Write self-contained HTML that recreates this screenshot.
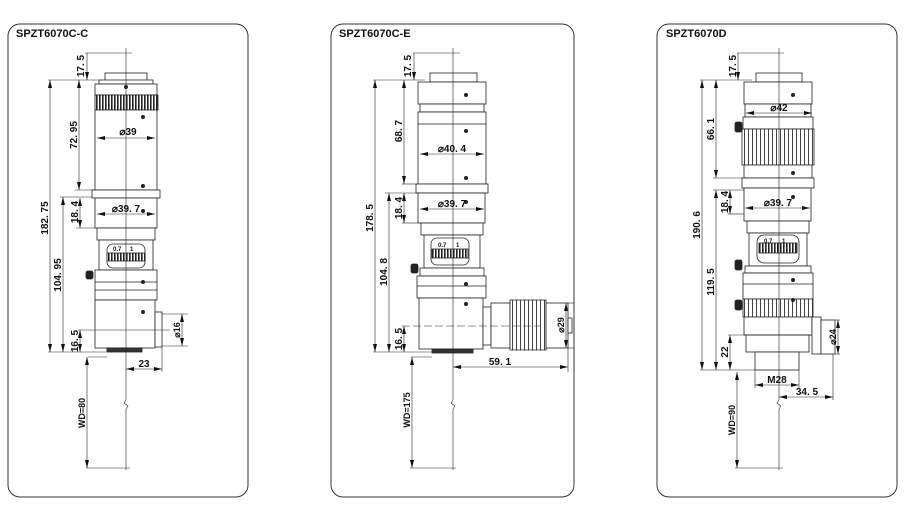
<!DOCTYPE html>
<html><head><meta charset="utf-8"><style>
html,body{margin:0;padding:0;background:#fff;}
svg{display:block;}
text{font-family:"Liberation Sans",sans-serif;font-weight:bold;fill:#111;}
</style></head><body>
<svg width="907" height="524" viewBox="0 0 907 524" xmlns="http://www.w3.org/2000/svg">
<defs>
<marker id="a" viewBox="0 0 8 4" refX="8" refY="2" markerWidth="8" markerHeight="4" orient="auto-start-reverse" markerUnits="userSpaceOnUse"><path d="M0,0L8,2L0,4z" fill="#111"/></marker>
<pattern id="kn" width="3" height="10" patternUnits="userSpaceOnUse"><rect width="3" height="10" fill="#fff"/><rect width="1.6" height="10" fill="#222"/></pattern>
<pattern id="kl" width="4" height="10" patternUnits="userSpaceOnUse"><rect width="4" height="10" fill="#fff"/><rect width="1" height="10" fill="#444"/></pattern>
</defs>
<g fill="none" stroke="#333" stroke-width="1">
<rect x="8" y="24" width="240" height="473" rx="12"/>
<rect x="331" y="24" width="243" height="473" rx="12"/>
<rect x="657" y="24" width="240" height="473" rx="12"/>
</g>
<text x="16" y="37" font-size="11">SPZT6070C-C</text>
<text x="339" y="37" font-size="11">SPZT6070C-E</text>
<text x="666" y="37" font-size="11">SPZT6070D</text>

<!-- ============ PANEL 1 ============ -->
<g stroke="#222" stroke-width="0.8" fill="#fff">
<rect x="105" y="73" width="42" height="9"/>
<rect x="99" y="80" width="54" height="4"/>
<rect x="95" y="84" width="62" height="11"/>
<rect x="95" y="95" width="63" height="15" fill="url(#kn)"/>
<rect x="95" y="110" width="62" height="80"/>
<rect x="92" y="190" width="68" height="8"/>
<rect x="95" y="198" width="62" height="30"/>
<rect x="97" y="228" width="58" height="12"/>
<rect x="99" y="240" width="54" height="30"/>
<rect x="107" y="244" width="38" height="24" rx="6"/>
<rect x="107" y="253" width="38" height="8" fill="url(#kn)"/>
<rect x="95" y="270" width="62" height="30"/>
<line x1="95" y1="282" x2="157" y2="282"/><line x1="95" y1="290" x2="157" y2="290"/>
<rect x="86" y="271" width="7" height="8" rx="2" fill="#222"/>
<rect x="95" y="300" width="60" height="48"/>
<rect x="155" y="312" width="7" height="35"/>
<rect x="107" y="348" width="35" height="4" fill="#333"/>
</g>
<g fill="#222"><circle cx="126" cy="87" r="2"/><circle cx="143" cy="117" r="2"/><circle cx="143" cy="186" r="2"/><circle cx="143" cy="211" r="2"/><circle cx="143" cy="282" r="2"/><circle cx="143" cy="312" r="2"/></g>
<text x="113" y="251" font-size="6">0.7</text><text x="130" y="251" font-size="6">1</text>
<g stroke="#222" stroke-width="0.6" fill="none">
<line x1="126" y1="48" x2="126" y2="400"/><path d="M126,400 l-2,3 l4,3 l-2,3"/><line x1="126" y1="409" x2="126" y2="470"/>
<line x1="85" y1="53" x2="132" y2="53"/>
<line x1="48" y1="80" x2="100" y2="80"/>
<line x1="60" y1="197" x2="92" y2="197"/><line x1="75" y1="190" x2="95" y2="190"/>
<line x1="76" y1="228" x2="95" y2="228"/>
<line x1="48" y1="352" x2="107" y2="352"/>
<line x1="78" y1="330" x2="170" y2="330"/>
<line x1="88" y1="357" x2="107" y2="357"/>
<line x1="162" y1="314" x2="188" y2="314"/><line x1="162" y1="346" x2="188" y2="346"/>
<line x1="162" y1="347" x2="162" y2="372"/>
<line x1="86" y1="468" x2="130" y2="468"/>
<line x1="50" y1="80" x2="50" y2="352" marker-start="url(#a)" marker-end="url(#a)"/>
<line x1="63" y1="197" x2="63" y2="352" marker-start="url(#a)" marker-end="url(#a)"/>
<line x1="79" y1="80" x2="79" y2="190" marker-start="url(#a)" marker-end="url(#a)"/>
<line x1="87" y1="53" x2="87" y2="80" marker-end="url(#a)"/>
<line x1="80" y1="198" x2="80" y2="228" marker-start="url(#a)" marker-end="url(#a)"/>
<line x1="80" y1="330" x2="80" y2="352" marker-start="url(#a)" marker-end="url(#a)"/>
<line x1="87" y1="357" x2="87" y2="468" marker-start="url(#a)" marker-end="url(#a)"/>
<line x1="182" y1="314" x2="182" y2="346" marker-start="url(#a)" marker-end="url(#a)"/>
<line x1="126" y1="369" x2="162" y2="369" marker-start="url(#a)" marker-end="url(#a)"/>
<line x1="97" y1="138" x2="155" y2="138" marker-start="url(#a)" marker-end="url(#a)"/>
<line x1="97" y1="214" x2="155" y2="214" marker-start="url(#a)" marker-end="url(#a)"/>
</g>
<g font-size="10">
<text transform="translate(48,218) rotate(-90)" text-anchor="middle">182. 75</text>
<text transform="translate(61,275) rotate(-90)" text-anchor="middle">104. 95</text>
<text transform="translate(77,135) rotate(-90)" text-anchor="middle">72. 95</text>
<text transform="translate(84,66) rotate(-90)" text-anchor="middle">17. 5</text>
<text transform="translate(78,212) rotate(-90)" text-anchor="middle">18. 4</text>
<text transform="translate(78,341) rotate(-90)" text-anchor="middle">16. 5</text>
<text transform="translate(85,413) rotate(-90)" text-anchor="middle" font-size="9">WD=80</text>
<text transform="translate(180,330) rotate(-90)" text-anchor="middle" font-size="9">⌀16</text>
<text x="128" y="135" text-anchor="middle">⌀39</text>
<text x="126" y="212" text-anchor="middle">⌀39. 7</text>
<text x="144" y="367" text-anchor="middle">23</text>
</g>

<!-- ============ PANEL 2 ============ -->
<g stroke="#222" stroke-width="0.8" fill="#fff">
<rect x="430" y="73" width="47" height="9"/>
<rect x="418" y="82" width="68" height="22"/>
<rect x="420" y="104" width="64" height="8"/>
<rect x="418" y="112" width="68" height="72"/>
<line x1="418" y1="124" x2="486" y2="124"/>
<rect x="416" y="184" width="72" height="9"/>
<rect x="418" y="193" width="67" height="30"/>
<rect x="421" y="223" width="62" height="12"/>
<rect x="424" y="235" width="56" height="33"/>
<rect x="431" y="238" width="38" height="27" rx="6"/>
<rect x="432" y="249" width="36" height="9" fill="url(#kn)"/>
<rect x="420" y="268" width="64" height="8"/>
<rect x="417" y="276" width="69" height="22"/>
<line x1="417" y1="286" x2="486" y2="286"/>
<rect x="411" y="264" width="7" height="9" rx="2" fill="#222"/>
<rect x="419" y="298" width="64" height="51"/>
<rect x="432" y="349" width="41" height="4" fill="#333"/>
<rect x="483" y="307" width="8" height="38"/>
<rect x="491" y="303" width="19" height="45"/>
<rect x="510" y="300" width="36" height="50" fill="url(#kl)"/>
<rect x="546" y="303" width="22" height="45"/>
<rect x="568" y="318" width="4" height="15"/>
</g>
<g fill="#222"><circle cx="466" cy="95" r="2"/><circle cx="466" cy="131" r="2"/><circle cx="466" cy="178" r="2"/><circle cx="466" cy="202" r="2"/><circle cx="466" cy="284" r="2"/><circle cx="466" cy="304" r="2"/></g>
<text x="438" y="247" font-size="6">0.7</text><text x="456" y="247" font-size="6">1</text>
<g stroke="#222" stroke-width="0.6" fill="none">
<line x1="453" y1="48" x2="453" y2="400"/><path d="M453,400 l-2,3 l4,3 l-2,3"/><line x1="453" y1="409" x2="453" y2="470"/>
<line x1="413" y1="53" x2="460" y2="53"/>
<line x1="373" y1="80" x2="425" y2="80"/>
<line x1="385" y1="193" x2="418" y2="193"/><line x1="402" y1="184" x2="418" y2="184"/>
<line x1="402" y1="223" x2="418" y2="223"/>
<line x1="373" y1="352" x2="432" y2="352"/>
<line x1="402" y1="326" x2="540" y2="326" stroke-dasharray="8,3"/>
<line x1="411" y1="357" x2="432" y2="357"/>
<line x1="568" y1="303" x2="574" y2="303"/><line x1="568" y1="348" x2="574" y2="348"/>
<line x1="568" y1="348" x2="568" y2="372"/>
<line x1="410" y1="468" x2="456" y2="468"/>
<line x1="375" y1="80" x2="375" y2="352" marker-start="url(#a)" marker-end="url(#a)"/>
<line x1="389" y1="193" x2="389" y2="352" marker-start="url(#a)" marker-end="url(#a)"/>
<line x1="404" y1="80" x2="404" y2="184" marker-start="url(#a)" marker-end="url(#a)"/>
<line x1="414" y1="53" x2="414" y2="80" marker-end="url(#a)"/>
<line x1="404" y1="193" x2="404" y2="223" marker-start="url(#a)" marker-end="url(#a)"/>
<line x1="404" y1="326" x2="404" y2="352" marker-start="url(#a)" marker-end="url(#a)"/>
<line x1="412" y1="357" x2="412" y2="468" marker-start="url(#a)" marker-end="url(#a)"/>
<line x1="566" y1="303" x2="566" y2="348" marker-start="url(#a)" marker-end="url(#a)"/>
<line x1="453" y1="367" x2="568" y2="367" marker-start="url(#a)" marker-end="url(#a)"/>
<line x1="420" y1="154" x2="484" y2="154" marker-start="url(#a)" marker-end="url(#a)"/>
<line x1="420" y1="209" x2="484" y2="209" marker-start="url(#a)" marker-end="url(#a)"/>
</g>
<g font-size="10">
<text transform="translate(373,218) rotate(-90)" text-anchor="middle">178. 5</text>
<text transform="translate(387,272) rotate(-90)" text-anchor="middle">104. 8</text>
<text transform="translate(402,131) rotate(-90)" text-anchor="middle">68. 7</text>
<text transform="translate(411,66) rotate(-90)" text-anchor="middle">17. 5</text>
<text transform="translate(402,208) rotate(-90)" text-anchor="middle">18. 4</text>
<text transform="translate(402,339) rotate(-90)" text-anchor="middle">16. 5</text>
<text transform="translate(410,410) rotate(-90)" text-anchor="middle" font-size="9">WD=175</text>
<text transform="translate(564,325) rotate(-90)" text-anchor="middle" font-size="9">⌀29</text>
<text x="452" y="152" text-anchor="middle">⌀40. 4</text>
<text x="452" y="207" text-anchor="middle">⌀39. 7</text>
<text x="500" y="365" text-anchor="middle">59. 1</text>
</g>

<!-- ============ PANEL 3 ============ -->
<g stroke="#222" stroke-width="0.8" fill="#fff">
<rect x="756" y="73" width="46" height="9"/>
<rect x="744" y="82" width="68" height="22"/>
<rect x="745" y="104" width="66" height="13"/>
<rect x="743" y="117" width="70" height="12"/>
<rect x="742" y="129" width="72" height="36" fill="url(#kl)"/>
<rect x="744" y="165" width="68" height="13"/>
<rect x="742" y="178" width="72" height="10"/>
<rect x="744" y="188" width="67" height="33"/>
<rect x="747" y="221" width="62" height="12"/>
<rect x="749" y="233" width="58" height="33"/>
<rect x="757" y="235" width="42" height="28" rx="7"/>
<rect x="759" y="243" width="38" height="10" fill="url(#kn)"/>
<rect x="745" y="266" width="66" height="7"/>
<rect x="743" y="273" width="70" height="26"/>
<line x1="743" y1="284" x2="813" y2="284"/>
<rect x="743" y="299" width="70" height="18" fill="url(#kl)"/>
<rect x="744" y="317" width="68" height="18"/>
<rect x="746" y="335" width="63" height="17"/>
<rect x="755" y="352" width="44" height="18"/>
<rect x="812" y="317" width="9" height="37"/>
<rect x="821" y="320" width="14" height="34"/>
<rect x="735" y="260" width="7" height="10" rx="2" fill="#222"/>
<rect x="735" y="122" width="7" height="10" rx="2" fill="#222"/>
<rect x="735" y="300" width="7" height="10" rx="2" fill="#222"/>
</g>
<g fill="#222"><circle cx="793" cy="95" r="2"/><circle cx="793" cy="173" r="2"/><circle cx="793" cy="197" r="2"/><circle cx="793" cy="280" r="2"/><circle cx="793" cy="300" r="2"/></g>
<text x="764" y="243" font-size="6">0.7</text><text x="782" y="243" font-size="6">1</text>
<g stroke="#222" stroke-width="0.6" fill="none">
<line x1="779" y1="48" x2="779" y2="400"/><path d="M779,400 l-2,3 l4,3 l-2,3"/><line x1="779" y1="409" x2="779" y2="470"/>
<line x1="737" y1="53" x2="784" y2="53"/>
<line x1="700" y1="80" x2="752" y2="80"/>
<line x1="713" y1="178" x2="742" y2="178"/><line x1="713" y1="190" x2="744" y2="190"/>
<line x1="728" y1="214" x2="744" y2="214"/>
<line x1="728" y1="335" x2="812" y2="335"/>
<line x1="700" y1="370" x2="755" y2="370"/>
<line x1="755" y1="370" x2="755" y2="388"/><line x1="799" y1="370" x2="799" y2="388"/>
<line x1="835" y1="320" x2="840" y2="320"/><line x1="835" y1="354" x2="840" y2="354"/>
<line x1="833" y1="354" x2="833" y2="400"/>
<line x1="735" y1="468" x2="783" y2="468"/>
<line x1="702" y1="80" x2="702" y2="370" marker-start="url(#a)" marker-end="url(#a)"/>
<line x1="716" y1="190" x2="716" y2="370" marker-start="url(#a)" marker-end="url(#a)"/>
<line x1="716" y1="80" x2="716" y2="178" marker-start="url(#a)" marker-end="url(#a)"/>
<line x1="738" y1="53" x2="738" y2="80" marker-end="url(#a)"/>
<line x1="730" y1="190" x2="730" y2="214" marker-start="url(#a)" marker-end="url(#a)"/>
<line x1="730" y1="335" x2="730" y2="370" marker-start="url(#a)" marker-end="url(#a)"/>
<line x1="737" y1="372" x2="737" y2="468" marker-start="url(#a)" marker-end="url(#a)"/>
<line x1="838" y1="320" x2="838" y2="354" marker-start="url(#a)" marker-end="url(#a)"/>
<line x1="755" y1="385" x2="799" y2="385" marker-start="url(#a)" marker-end="url(#a)"/>
<line x1="779" y1="397" x2="833" y2="397" marker-start="url(#a)" marker-end="url(#a)"/>
<line x1="746" y1="113" x2="812" y2="113" marker-start="url(#a)" marker-end="url(#a)"/>
<line x1="745" y1="208" x2="810" y2="208" marker-start="url(#a)" marker-end="url(#a)"/>
</g>
<g font-size="10">
<text transform="translate(700,225) rotate(-90)" text-anchor="middle">190. 6</text>
<text transform="translate(714,282) rotate(-90)" text-anchor="middle">119. 5</text>
<text transform="translate(714,129) rotate(-90)" text-anchor="middle">66. 1</text>
<text transform="translate(736,66) rotate(-90)" text-anchor="middle">17. 5</text>
<text transform="translate(728,202) rotate(-90)" text-anchor="middle">18. 4</text>
<text transform="translate(728,352) rotate(-90)" text-anchor="middle">22</text>
<text transform="translate(735,420) rotate(-90)" text-anchor="middle" font-size="9">WD=90</text>
<text transform="translate(836,337) rotate(-90)" text-anchor="middle" font-size="9">⌀24</text>
<text x="779" y="111" text-anchor="middle">⌀42</text>
<text x="778" y="206" text-anchor="middle">⌀39. 7</text>
<text x="777" y="383" text-anchor="middle">M28</text>
<text x="807" y="395" text-anchor="middle">34. 5</text>
</g>
</svg>
</body></html>
